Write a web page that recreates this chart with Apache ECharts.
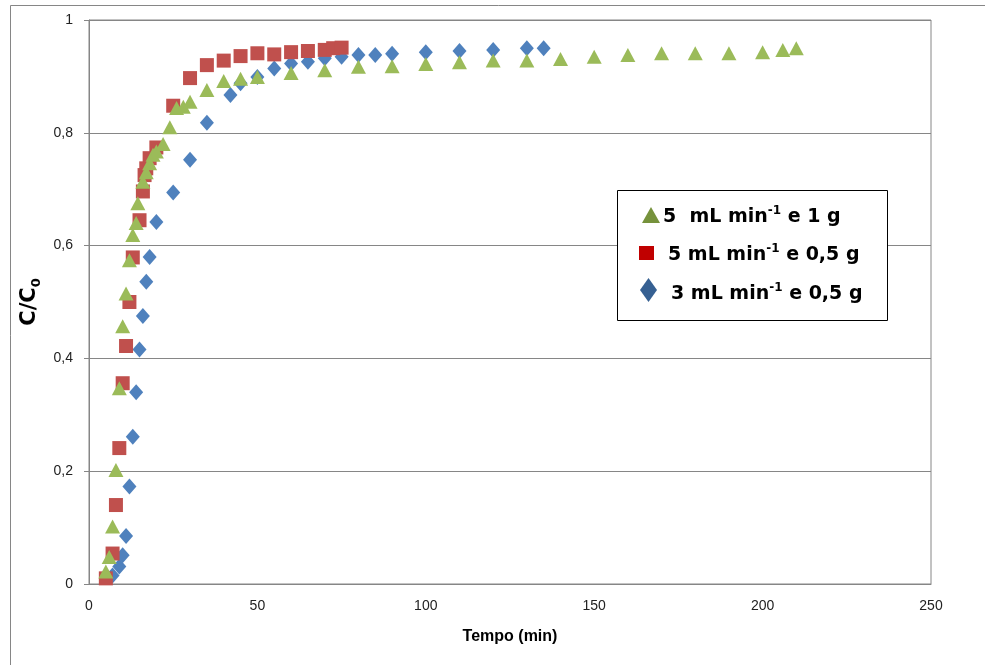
<!DOCTYPE html>
<html>
<head>
<meta charset="utf-8">
<script src="https://cdn.jsdelivr.net/npm/echarts@6/dist/echarts.min.js"></script>
<style>
  html, body { margin: 0; padding: 0; background: #fff; }
  #chart { width: 985px; height: 665px; }
</style>
</head>
<body>
<div id="chart"></div>
<script>
// 3 mL min-1 e 0,5 g (blue diamonds)
const blueX = [7, 9, 10, 11, 12, 13, 14, 15, 16, 17, 18, 20, 25, 30, 35, 42, 45, 50, 55, 60, 65, 70, 75, 80, 85, 90, 100, 110, 120, 130, 135];
const blueY = [0.015, 0.031, 0.051, 0.085, 0.173, 0.261, 0.340, 0.416, 0.475, 0.536, 0.580, 0.642, 0.694, 0.752, 0.818, 0.867, 0.888, 0.899, 0.914, 0.923, 0.926, 0.932, 0.935, 0.938, 0.938, 0.940, 0.943, 0.945, 0.947, 0.950, 0.950];

// 5 mL min-1 e 0,5 g (red squares)
const redX = [5, 7, 8, 9, 10, 11, 12, 13, 15, 16, 16.5, 17, 18, 20, 25, 30, 35, 40, 45, 50, 55, 60, 65, 70, 72.5, 75];
const redY = [0.010, 0.054, 0.140, 0.241, 0.356, 0.422, 0.500, 0.579, 0.645, 0.696, 0.725, 0.737, 0.755, 0.774, 0.848, 0.897, 0.920, 0.928, 0.936, 0.941, 0.939, 0.943, 0.945, 0.947, 0.950, 0.951];

// 5 mL min-1 e 1 g (green triangles)
const greenX = [5, 6, 7, 8, 9, 10, 11, 12, 13, 14, 14.5, 16, 17, 18, 19, 20, 22, 24, 26, 28, 30, 35, 40, 45, 50, 60, 70, 80, 90, 100, 110, 120, 130, 140, 150, 160, 170, 180, 190, 200, 206, 210];
const greenY = [0.022, 0.048, 0.102, 0.202, 0.347, 0.457, 0.515, 0.574, 0.619, 0.640, 0.675, 0.713, 0.730, 0.746, 0.761, 0.767, 0.780, 0.810, 0.844, 0.846, 0.855, 0.876, 0.892, 0.896, 0.899, 0.906, 0.911, 0.917, 0.918, 0.922, 0.925, 0.928, 0.928, 0.931, 0.935, 0.938, 0.941, 0.941, 0.941, 0.943, 0.947, 0.950];

const xTicks = [0, 50, 100, 150, 200, 250];
const yTicks = [0, 0.2, 0.4, 0.6, 0.8, 1];

const zip = (xs, ys) => xs.map((x, i) => [x, ys[i]]);

const chart = echarts.init(document.getElementById('chart'));

const legendFont = 'DejaVu Sans';
const legendRich = {
    a: { fontFamily: legendFont, fontWeight: 'bold', fontSize: 19, lineHeight: 24, color: '#000' },
    s: { fontFamily: legendFont, fontWeight: 'bold', fontSize: 12, lineHeight: 13, verticalAlign: 'top', color: '#000' }
};

const option = {
    animation: false,
    backgroundColor: '#fff',
    grid: {
        left: 89,
        right: 54,
        top: 20,
        bottom: 81,
        show: true,
        borderColor: '#868686',
        borderWidth: 1
    },
    xAxis: {
        type: 'value',
        min: 0,
        max: 250,
        interval: 50,
        name: 'Tempo (min)',
        nameLocation: 'middle',
        nameGap: 45,
        nameTextStyle: { fontFamily: 'Liberation Sans', fontWeight: 'bold', fontSize: 16, color: '#000' },
        axisLine: { show: true, lineStyle: { color: '#868686', width: 1 } },
        axisTick: { show: false },
        splitLine: { show: false },
        axisLabel: {
            fontFamily: 'Liberation Sans', fontSize: 14, color: '#222', margin: 15,
            formatter: v => xTicks.includes(v) ? String(v) : ''
        }
    },
    yAxis: {
        type: 'value',
        min: 0,
        max: 1,
        interval: 0.2,
        name: '{a|C/C}{b|0}',
        nameLocation: 'middle',
        nameGap: 40,
        nameTextStyle: {
            rich: {
                a: { fontFamily: 'DejaVu Sans', fontWeight: 'bold', fontSize: 21, lineHeight: 26, color: '#000' },
                b: { fontFamily: 'DejaVu Sans', fontWeight: 'bold', fontSize: 13, lineHeight: 14, verticalAlign: 'bottom', color: '#000' }
            }
        },
        axisLine: { show: true, lineStyle: { color: '#868686', width: 1 } },
        axisTick: { show: true, length: 5, inside: false, lineStyle: { color: '#868686' } },
        splitLine: { show: true, lineStyle: { color: '#868686', width: 1 } },
        axisLabel: {
            fontFamily: 'Liberation Sans', fontSize: 14, color: '#222', margin: 16,
            formatter: v => {
                const t = yTicks.find(k => Math.abs(k - v) < 1e-9);
                return t === undefined ? '' : String(t).replace('.', ',');
            }
        }
    },
    series: [
        {
            name: '3 mL min-1 e 0,5 g',
            type: 'scatter',
            symbol: 'diamond',
            symbolSize: [14, 16],
            itemStyle: { color: '#4F81BD', opacity: 1 },
            data: zip(blueX, blueY)
        },
        {
            name: '5 mL min-1 e 0,5 g',
            type: 'scatter',
            symbol: 'rect',
            symbolSize: 14,
            itemStyle: { color: '#C0504D', opacity: 1 },
            data: zip(redX, redY)
        },
        {
            name: '5 mL min-1 e 1 g',
            type: 'scatter',
            symbol: 'triangle',
            symbolSize: [15, 14],
            itemStyle: { color: '#9BBB59', opacity: 1 },
            data: zip(greenX, greenY)
        }
    ],
    graphic: [
        // outer chart frame
        { type: 'rect', shape: { x: 10.5, y: 5.5, width: 1000, height: 700 }, style: { fill: null, stroke: '#868686', lineWidth: 1 }, silent: true },
        // legend box
        { type: 'rect', shape: { x: 617.5, y: 190.5, width: 270, height: 130 }, style: { fill: '#fff', stroke: '#000', lineWidth: 1 }, z: 10 },
        { type: 'polygon', shape: { points: [[651, 207], [660, 223], [642, 223]] }, style: { fill: '#76923C' }, z: 11 },
        { type: 'text', x: 663, y: 205, style: { text: '{a|5  mL min}{s|-1}{a| e 1 g}', rich: legendRich }, z: 11 },
        { type: 'rect', shape: { x: 639, y: 246, width: 15, height: 14 }, style: { fill: '#C00000' }, z: 11 },
        { type: 'text', x: 668, y: 243, style: { text: '{a|5 mL min}{s|-1}{a| e 0,5 g}', rich: legendRich }, z: 11 },
        { type: 'polygon', shape: { points: [[648.5, 278], [657, 290], [648.5, 302], [640, 290]] }, style: { fill: '#366092' }, z: 11 },
        { type: 'text', x: 671, y: 282, style: { text: '{a|3 mL min}{s|-1}{a| e 0,5 g}', rich: legendRich }, z: 11 }
    ]
};

chart.setOption(option);
</script>
</body>
</html>
